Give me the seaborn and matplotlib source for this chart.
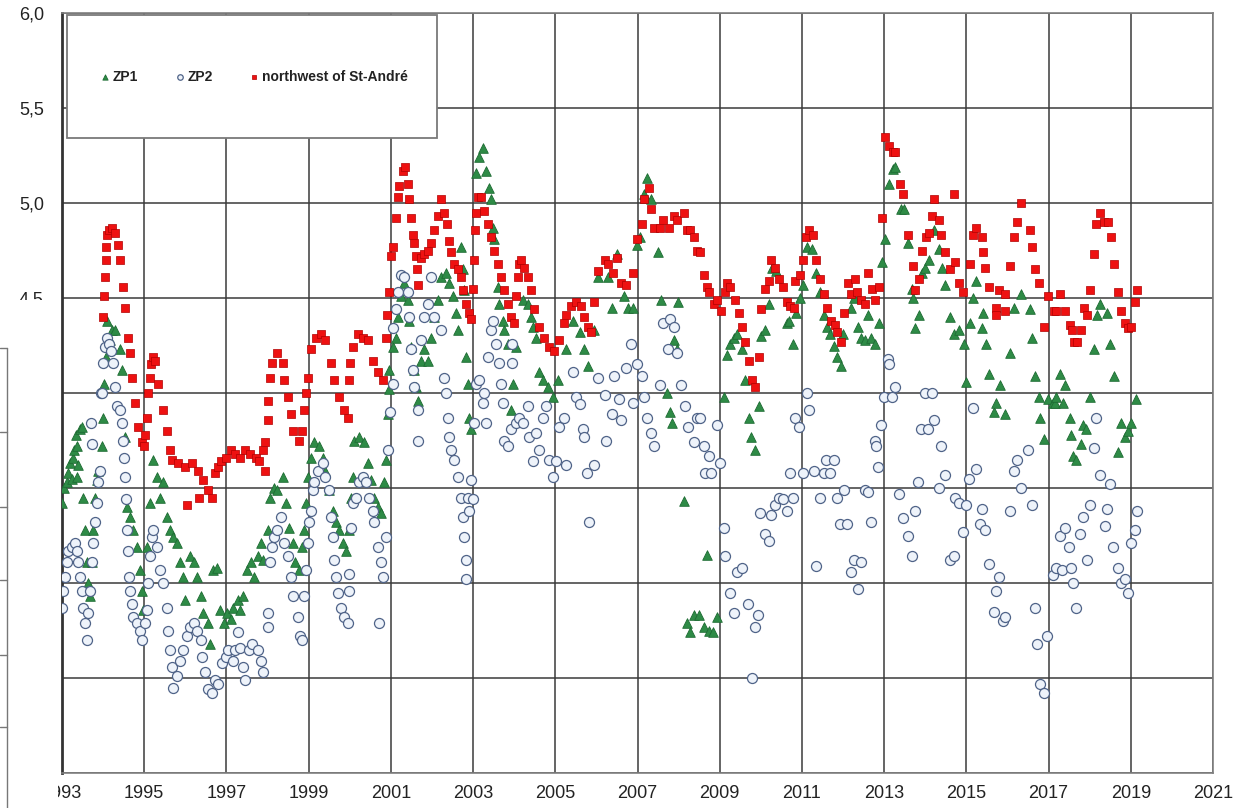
import matplotlib
matplotlib.use("Agg")
import matplotlib.pyplot as plt
from matplotlib.patches import Rectangle
from matplotlib.lines import Line2D
from matplotlib.ticker import FuncFormatter
import seaborn as sns
import pandas as pd
import numpy as np

# ---------------- data ----------------
zp1_year = [1993.00,1993.05,1993.12,1993.15,1993.20,1993.24,1993.27,1993.30,1993.33,1993.37,1993.37,1993.40,1993.44,1993.49,
            1993.51,1993.56,1993.61,1993.63,1993.68,1993.73,1993.76,1993.80,1993.85,1993.88,1993.98,1994.00,1994.02,1994.06,
            1994.10,1994.17,1994.22,1994.29,1994.41,1994.46,1994.54,1994.59,1994.66,1994.73,1994.83,1994.90,1994.95,1994.98,
            1995.07,1995.15,1995.22,1995.32,1995.39,1995.46,1995.56,1995.63,1995.71,1995.80,1995.88,1995.95,1996.00,1996.12,
            1996.20,1996.29,1996.37,1996.44,1996.54,1996.61,1996.68,1996.78,1996.85,1996.93,1997.02,1997.10,1997.17,1997.27,
            1997.34,1997.41,1997.51,1997.59,1997.66,1997.76,1997.83,1997.90,1998.00,1998.07,1998.15,1998.24,1998.37,1998.44,
            1998.51,1998.61,1998.68,1998.76,1998.85,1998.88,1998.93,1998.98,1999.05,1999.12,1999.24,1999.34,1999.41,1999.49,
            1999.59,1999.66,1999.73,1999.83,1999.90,1999.98,2000.02,2000.07,2000.10,2000.22,2000.34,2000.44,2000.51,2000.59,
            2000.68,2000.76,2000.83,2000.88,2000.93,2000.95,2000.96,2001.05,2001.12,2001.17,2001.24,2001.32,2001.41,2001.44,
            2001.49,2001.56,2001.61,2001.66,2001.73,2001.80,2001.90,2001.98,2002.05,2002.15,2002.22,2002.34,2002.41,2002.51,
            2002.59,2002.63,2002.71,2002.76,2002.78,2002.83,2002.88,2002.90,2002.95,2003.07,2003.15,2003.24,2003.32,2003.39,
            2003.44,2003.49,2003.51,2003.61,2003.63,2003.73,2003.76,2003.85,2003.93,2003.98,2004.05,2004.22,2004.34,2004.41,
            2004.46,2004.54,2004.61,2004.71,2004.83,2004.95,2005.07,2005.27,2005.44,2005.59,2005.71,2005.80,2005.93,2006.05,
            2006.29,2006.37,2006.49,2006.66,2006.78,2006.90,2006.98,2007.05,2007.15,2007.24,2007.34,2007.51,2007.56,2007.71,
            2007.80,2007.83,2007.90,2007.95,2007.98,2008.12,2008.20,2008.27,2008.37,2008.49,2008.61,2008.68,2008.73,2008.83,
            2008.93,2009.10,2009.17,2009.24,2009.34,2009.41,2009.54,2009.61,2009.71,2009.76,2009.85,2009.95,2010.00,2010.10,
            2010.20,2010.27,2010.37,2010.63,2010.68,2010.78,2010.85,2010.95,2011.02,2011.12,2011.24,2011.34,2011.44,2011.54,
            2011.61,2011.68,2011.78,2011.85,2011.95,2012.00,2012.20,2012.27,2012.37,2012.44,2012.54,2012.61,2012.68,2012.78,
            2012.88,2012.95,2013.02,2013.12,2013.22,2013.27,2013.41,2013.49,2013.59,2013.68,2013.70,2013.76,2013.85,2013.93,
            2014.00,2014.10,2014.22,2014.34,2014.41,2014.49,2014.61,2014.71,2014.83,2014.95,2015.00,2015.10,2015.17,2015.24,
            2015.39,2015.41,2015.49,2015.56,2015.68,2015.71,2015.83,2015.95,2016.07,2016.17,2016.32,2016.54,2016.59,2016.68,
            2016.76,2016.80,2016.90,2016.98,2017.10,2017.15,2017.17,2017.27,2017.34,2017.41,2017.51,2017.54,2017.59,2017.66,
            2017.78,2017.83,2017.90,2018.00,2018.10,2018.17,2018.24,2018.41,2018.49,2018.59,2018.68,2018.76,2018.85,2018.93,
            2019.00,2019.12]
zp1_val = [3.42,3.50,3.53,3.58,3.63,3.55,3.66,3.70,3.78,3.72,3.56,3.62,3.81,3.82,
           3.45,3.28,3.11,3.00,2.93,3.11,3.28,3.45,3.54,3.59,3.72,3.87,4.05,4.19,
           4.38,4.28,4.33,4.33,4.23,4.12,3.77,3.40,3.35,3.28,3.19,3.07,2.96,2.86,
           3.19,3.42,3.65,3.56,3.45,3.53,3.35,3.28,3.24,3.21,3.11,3.03,2.91,3.14,
           3.11,3.03,2.93,2.84,2.79,2.68,3.07,3.08,2.86,2.79,2.84,2.81,2.87,2.91,
           2.86,2.93,3.07,3.11,3.03,3.14,3.21,3.12,3.28,3.45,3.50,3.49,3.56,3.42,
           3.29,3.21,3.11,3.07,3.19,3.28,3.42,3.56,3.66,3.74,3.72,3.66,3.59,3.49,
           3.38,3.32,3.28,3.21,3.17,3.28,3.45,3.56,3.75,3.77,3.74,3.63,3.54,3.45,
           3.40,3.37,3.53,3.65,3.89,4.02,4.12,4.24,4.29,4.40,4.51,4.58,4.49,4.38,
           4.24,4.12,4.03,3.96,4.17,4.23,4.17,4.29,4.40,4.49,4.61,4.63,4.58,4.51,
           4.42,4.33,4.77,4.65,4.54,4.19,4.05,3.87,3.81,5.16,5.24,5.29,5.17,5.08,
           5.02,4.87,4.81,4.56,4.47,4.38,4.33,4.26,3.91,4.05,4.24,4.49,4.47,4.40,
           4.35,4.29,4.11,4.07,4.03,3.98,4.07,4.23,4.38,4.32,4.23,4.14,4.33,4.61,
           4.61,4.45,4.73,4.51,4.45,4.45,4.78,4.82,5.05,5.13,5.02,4.74,4.49,4.00,
           3.90,3.84,4.28,4.23,4.48,3.43,2.79,2.74,2.83,2.83,2.77,3.15,2.75,2.74,
           2.82,3.98,4.20,4.26,4.29,4.31,4.23,4.07,3.87,3.77,3.70,3.93,4.30,4.33,
           4.47,4.66,4.64,4.37,4.38,4.26,4.42,4.50,4.57,4.77,4.76,4.63,4.53,4.41,
           4.35,4.31,4.25,4.19,4.14,4.31,4.45,4.50,4.35,4.29,4.28,4.41,4.29,4.26,
           4.37,4.69,4.81,5.10,5.18,5.19,4.97,4.97,4.79,4.55,4.50,4.34,4.41,4.63,
           4.66,4.70,4.86,4.76,4.66,4.57,4.40,4.31,4.33,4.26,4.06,4.37,4.50,4.59,
           4.34,4.42,4.26,4.10,3.90,3.95,4.04,3.89,4.21,4.45,4.52,4.44,4.29,4.09,
           3.98,3.87,3.76,3.97,3.95,3.95,3.98,4.10,3.95,4.04,3.87,3.78,3.67,3.65,
           3.73,3.83,3.81,3.98,4.23,4.41,4.47,4.42,4.26,4.09,3.69,3.84,3.77,3.80,
           3.84,3.97]

zp2_year = [1993.00,1993.02,1993.07,1993.12,1993.15,1993.24,1993.32,1993.37,1993.39,1993.44,1993.49,1993.51,1993.56,1993.61,
            1993.63,1993.68,1993.70,1993.72,1993.73,1993.76,1993.80,1993.85,1993.88,1993.93,1993.94,1993.98,1994.00,1994.05,
            1994.10,1994.15,1994.20,1994.24,1994.29,1994.34,1994.41,1994.46,1994.49,1994.50,1994.54,1994.55,1994.59,1994.61,
            1994.62,1994.66,1994.71,1994.73,1994.83,1994.90,1994.95,1995.02,1995.07,1995.10,1995.15,1995.20,1995.22,1995.32,
            1995.39,1995.46,1995.56,1995.59,1995.63,1995.68,1995.71,1995.80,1995.88,1995.95,1996.05,1996.12,1996.20,1996.29,
            1996.37,1996.41,1996.49,1996.56,1996.66,1996.73,1996.80,1996.90,1996.98,1997.05,1997.15,1997.22,1997.27,1997.34,
            1997.41,1997.46,1997.54,1997.63,1997.76,1997.83,1997.90,1998.00,1998.02,1998.07,1998.12,1998.15,1998.24,1998.32,
            1998.39,1998.49,1998.56,1998.63,1998.73,1998.80,1998.85,1998.88,1998.93,1998.98,1999.00,1999.05,1999.10,1999.12,
            1999.22,1999.34,1999.41,1999.49,1999.54,1999.59,1999.61,1999.66,1999.71,1999.78,1999.85,1999.95,1999.98,1999.99,
            2000.02,2000.07,2000.15,2000.22,2000.32,2000.39,2000.46,2000.56,2000.59,2000.68,2000.71,2000.76,2000.80,2000.88,
            2000.93,2000.98,2001.05,2001.06,2001.12,2001.17,2001.24,2001.32,2001.41,2001.44,2001.49,2001.54,2001.56,2001.66,
            2001.67,2001.73,2001.80,2001.90,2001.98,2002.05,2002.22,2002.29,2002.34,2002.39,2002.41,2002.46,2002.54,2002.63,
            2002.71,2002.76,2002.78,2002.83,2002.84,2002.88,2002.90,2002.95,2003.00,2003.02,2003.07,2003.15,2003.24,2003.27,
            2003.32,2003.37,2003.44,2003.49,2003.56,2003.63,2003.68,2003.73,2003.76,2003.85,2003.93,2003.94,2003.95,2004.05,
            2004.12,2004.22,2004.34,2004.37,2004.46,2004.54,2004.61,2004.71,2004.78,2004.85,2004.95,2005.02,2005.10,2005.22,
            2005.27,2005.44,2005.51,2005.59,2005.68,2005.71,2005.76,2005.83,2005.95,2006.05,2006.20,2006.24,2006.37,2006.44,
            2006.54,2006.61,2006.73,2006.85,2006.90,2006.98,2007.10,2007.17,2007.24,2007.32,2007.41,2007.54,2007.63,2007.73,
            2007.78,2007.88,2007.95,2008.07,2008.15,2008.24,2008.37,2008.44,2008.51,2008.61,2008.63,2008.73,2008.80,2008.93,
            2009.00,2009.10,2009.12,2009.24,2009.34,2009.41,2009.54,2009.68,2009.78,2009.85,2009.93,2009.98,2010.10,2010.20,
            2010.24,2010.34,2010.44,2010.54,2010.63,2010.71,2010.78,2010.83,2010.93,2011.02,2011.12,2011.17,2011.29,2011.34,
            2011.44,2011.54,2011.59,2011.68,2011.78,2011.85,2011.93,2012.02,2012.10,2012.20,2012.27,2012.37,2012.44,2012.54,
            2012.61,2012.68,2012.78,2012.80,2012.85,2012.93,2013.00,2013.10,2013.12,2013.20,2013.27,2013.37,2013.46,2013.59,
            2013.68,2013.76,2013.83,2013.90,2014.00,2014.07,2014.17,2014.22,2014.34,2014.39,2014.49,2014.59,2014.71,2014.73,
            2014.83,2014.93,2014.98,2015.07,2015.15,2015.24,2015.34,2015.39,2015.46,2015.56,2015.68,2015.71,2015.80,2015.90,
            2015.95,2016.05,2016.15,2016.22,2016.32,2016.51,2016.59,2016.68,2016.73,2016.80,2016.90,2016.95,2017.10,2017.17,
            2017.27,2017.32,2017.41,2017.49,2017.54,2017.59,2017.66,2017.76,2017.83,2017.93,2018.00,2018.10,2018.15,2018.24,
            2018.37,2018.41,2018.49,2018.56,2018.68,2018.76,2018.85,2018.93,2019.00,2019.10,2019.15]
zp2_val = [2.87,2.96,3.03,3.11,3.17,3.19,3.21,3.17,3.11,3.03,2.96,2.87,2.79,2.70,
           2.84,2.96,3.84,3.73,3.11,3.21,3.32,3.42,3.53,3.59,4.00,4.00,4.16,4.24,
           4.29,4.26,4.22,4.16,4.03,3.93,3.91,3.84,3.75,3.66,3.56,3.44,3.28,3.17,
           3.03,2.96,2.89,2.82,2.79,2.75,2.70,2.79,2.86,3.00,3.14,3.24,3.28,3.19,
           3.07,3.00,2.87,2.75,2.65,2.56,2.45,2.51,2.59,2.65,2.72,2.77,2.79,2.75,
           2.70,2.61,2.53,2.44,2.42,2.49,2.47,2.58,2.61,2.65,2.59,2.65,2.74,2.66,
           2.56,2.49,2.65,2.68,2.65,2.59,2.53,2.77,2.84,3.11,3.19,3.24,3.28,3.35,
           3.21,3.14,3.03,2.93,2.82,2.72,2.70,2.93,3.07,3.21,3.32,3.38,3.49,3.53,
           3.59,3.63,3.56,3.49,3.35,3.24,3.12,3.03,2.95,2.87,2.82,2.79,2.96,3.05,
           3.29,3.42,3.45,3.53,3.56,3.53,3.45,3.38,3.32,3.19,2.79,3.11,3.03,3.24,
           3.70,3.90,4.05,4.34,4.44,4.53,4.62,4.61,4.53,4.40,4.23,4.12,4.03,3.91,
           3.75,4.28,4.40,4.47,4.61,4.40,4.33,4.08,4.00,3.87,3.77,3.70,3.65,3.56,
           3.45,3.35,3.24,3.12,3.02,3.45,3.38,3.54,3.44,3.84,4.05,4.07,3.95,4.00,
           3.84,4.19,4.33,4.38,4.26,4.16,4.05,3.95,3.75,3.72,3.81,4.26,4.16,3.84,
           3.87,3.84,3.93,3.77,3.64,3.79,3.70,3.87,3.93,3.65,3.56,3.64,3.82,3.87,
           3.62,4.11,3.98,3.94,3.81,3.77,3.58,3.32,3.62,4.08,3.99,3.75,3.89,4.09,
           3.97,3.86,4.13,4.26,3.95,4.15,4.09,3.98,3.87,3.79,3.72,4.04,4.37,4.23,
           4.39,4.35,4.21,4.04,3.93,3.82,3.74,3.87,3.87,3.72,3.58,3.67,3.58,3.83,
           3.63,3.29,3.14,2.95,2.84,3.06,3.08,2.89,2.50,2.77,2.83,3.37,3.26,3.22,
           3.36,3.41,3.45,3.44,3.38,3.58,3.45,3.87,3.82,3.58,4.00,3.91,3.59,3.09,
           3.45,3.58,3.65,3.58,3.65,3.45,3.31,3.49,3.31,3.06,3.12,2.97,3.11,3.49,
           3.48,3.32,3.75,3.72,3.61,3.83,3.98,4.18,4.15,3.98,4.03,3.47,3.34,3.25,
           3.14,3.38,3.53,3.81,4.00,3.81,4.00,3.86,3.50,3.72,3.57,3.12,3.14,3.45,
           3.42,3.27,3.41,3.55,3.92,3.60,3.31,3.39,3.28,3.10,2.85,2.96,3.03,2.80,
           2.82,3.38,3.59,3.65,3.50,3.70,3.41,2.87,2.68,2.47,2.42,2.72,3.04,3.08,
           3.25,3.07,3.29,3.19,3.08,3.00,2.87,3.26,3.35,3.12,3.41,3.71,3.87,3.57,
           3.30,3.39,3.52,3.19,3.08,3.00,3.02,2.95,3.21,3.28,3.38]

nw_year = [1994.00,1994.02,1994.05,1994.07,1994.08,1994.10,1994.15,1994.22,1994.29,1994.37,1994.41,1994.49,1994.54,1994.61,
           1994.66,1994.71,1994.78,1994.85,1994.95,1995.00,1995.03,1995.07,1995.10,1995.13,1995.17,1995.21,1995.26,1995.34,
           1995.46,1995.56,1995.63,1995.68,1995.83,1996.00,1996.05,1996.17,1996.32,1996.33,1996.44,1996.56,1996.66,1996.73,
           1996.80,1996.88,1996.98,1997.10,1997.22,1997.34,1997.46,1997.58,1997.71,1997.80,1997.88,1997.93,1997.95,1998.00,
           1998.02,1998.07,1998.12,1998.24,1998.37,1998.39,1998.49,1998.56,1998.63,1998.76,1998.85,1998.88,1998.93,1998.98,
           1999.05,1999.17,1999.29,1999.41,1999.54,1999.61,1999.73,1999.85,1999.95,1999.98,2000.00,2000.07,2000.20,2000.32,
           2000.44,2000.56,2000.68,2000.80,2000.88,2000.90,2000.95,2001.00,2001.05,2001.12,2001.17,2001.20,2001.29,2001.34,
           2001.41,2001.44,2001.49,2001.54,2001.56,2001.61,2001.63,2001.66,2001.73,2001.80,2001.90,2001.98,2002.05,2002.15,
           2002.22,2002.29,2002.37,2002.41,2002.46,2002.54,2002.63,2002.71,2002.76,2002.83,2002.90,2002.95,2002.99,2003.02,
           2003.05,2003.07,2003.12,2003.20,2003.27,2003.37,2003.44,2003.51,2003.61,2003.68,2003.76,2003.85,2003.93,2004.00,
           2004.05,2004.10,2004.12,2004.17,2004.24,2004.34,2004.41,2004.49,2004.61,2004.73,2004.85,2004.98,2005.10,2005.20,
           2005.27,2005.39,2005.51,2005.63,2005.71,2005.80,2005.88,2005.95,2006.05,2006.20,2006.29,2006.41,2006.49,2006.61,
           2006.73,2006.90,2006.98,2007.10,2007.17,2007.27,2007.34,2007.41,2007.54,2007.63,2007.76,2007.90,2007.95,2008.12,
           2008.20,2008.27,2008.37,2008.44,2008.51,2008.61,2008.68,2008.73,2008.85,2008.93,2009.02,2009.12,2009.17,2009.24,
           2009.37,2009.46,2009.54,2009.61,2009.71,2009.78,2009.85,2009.95,2010.00,2010.10,2010.20,2010.24,2010.34,2010.44,
           2010.54,2010.63,2010.71,2010.80,2010.83,2010.95,2011.02,2011.10,2011.17,2011.27,2011.34,2011.44,2011.54,2011.61,
           2011.71,2011.80,2011.85,2011.95,2012.02,2012.12,2012.20,2012.29,2012.34,2012.44,2012.54,2012.61,2012.71,2012.78,
           2012.88,2012.95,2013.02,2013.12,2013.22,2013.27,2013.39,2013.46,2013.59,2013.71,2013.76,2013.85,2013.93,2014.02,
           2014.10,2014.17,2014.22,2014.34,2014.39,2014.49,2014.61,2014.71,2014.73,2014.83,2014.93,2015.10,2015.15,2015.24,
           2015.37,2015.41,2015.46,2015.56,2015.71,2015.73,2015.80,2015.93,2015.95,2016.07,2016.15,2016.22,2016.32,2016.54,
           2016.59,2016.68,2016.76,2016.90,2016.98,2017.12,2017.17,2017.29,2017.41,2017.51,2017.56,2017.61,2017.68,2017.78,
           2017.85,2017.93,2018.00,2018.10,2018.15,2018.24,2018.34,2018.44,2018.51,2018.59,2018.68,2018.76,2018.85,2018.93,
           2019.00,2019.10,2019.15]
nw_val = [4.40,4.51,4.61,4.70,4.77,4.83,4.86,4.87,4.84,4.78,4.70,4.56,4.45,4.29,
          4.21,4.08,3.95,3.82,3.74,3.72,3.78,3.87,4.00,4.08,4.15,4.19,4.17,4.05,
          3.91,3.80,3.70,3.65,3.63,3.61,3.41,3.63,3.59,3.45,3.54,3.49,3.45,3.58,
          3.61,3.64,3.66,3.70,3.68,3.66,3.70,3.68,3.66,3.64,3.70,3.74,3.59,3.86,
          3.96,4.08,4.16,4.21,4.16,4.07,3.98,3.89,3.80,3.75,3.80,3.91,4.00,4.08,
          4.23,4.29,4.31,4.28,4.16,4.07,3.98,3.91,3.87,4.07,4.16,4.24,4.31,4.29,
          4.28,4.17,4.11,4.07,4.29,4.41,4.53,4.72,4.77,4.92,5.03,5.09,5.17,5.19,
          5.10,5.02,4.92,4.83,4.79,4.72,4.65,4.57,4.71,4.73,4.75,4.79,4.86,4.93,
          5.02,4.95,4.89,4.80,4.74,4.68,4.65,4.61,4.54,4.47,4.42,4.39,4.55,4.70,
          4.86,4.95,5.03,5.03,4.96,4.89,4.82,4.75,4.68,4.61,4.54,4.47,4.40,4.37,
          4.51,4.61,4.68,4.70,4.66,4.61,4.54,4.44,4.35,4.29,4.24,4.22,4.28,4.37,
          4.41,4.46,4.48,4.46,4.40,4.35,4.32,4.48,4.64,4.70,4.68,4.63,4.71,4.58,
          4.57,4.63,4.81,4.89,5.02,5.08,4.97,4.87,4.87,4.91,4.87,4.93,4.91,4.95,
          4.86,4.86,4.82,4.75,4.74,4.62,4.56,4.53,4.47,4.49,4.43,4.53,4.58,4.56,
          4.49,4.42,4.35,4.27,4.17,4.07,4.03,4.19,4.44,4.55,4.59,4.70,4.66,4.60,
          4.56,4.48,4.46,4.45,4.59,4.62,4.70,4.82,4.86,4.83,4.70,4.60,4.52,4.45,
          4.38,4.36,4.32,4.27,4.42,4.58,4.52,4.60,4.53,4.49,4.47,4.63,4.55,4.49,
          4.56,4.92,5.35,5.30,5.27,5.27,5.10,5.05,4.83,4.67,4.54,4.60,4.75,4.82,
          4.84,4.93,5.02,4.91,4.83,4.74,4.65,5.05,4.69,4.58,4.53,4.68,4.83,4.87,
          4.82,4.74,4.66,4.56,4.45,4.41,4.54,4.43,4.52,4.67,4.82,4.90,5.00,4.86,
          4.77,4.65,4.58,4.35,4.51,4.43,4.43,4.52,4.43,4.36,4.33,4.27,4.27,4.33,
          4.45,4.41,4.54,4.73,4.89,4.95,4.90,4.90,4.82,4.68,4.53,4.43,4.37,4.34,
          4.35,4.48,4.54]

series_labels = ["ZP1", "ZP2", "northwest of St-André"]
x_ticks = list(range(1993, 2022, 2))
y_ticks = [2.0, 2.5, 3.0, 3.5, 4.0, 4.5, 5.0, 5.5, 6.0]

# ---------------- figure ----------------
sns.set_style("white")
plt.rcParams["font.family"] = ["Liberation Sans", "DejaVu Sans"]

W, H = 1256, 808
fig = plt.figure(figsize=(W / 100, H / 100), dpi=100)
fig.patch.set_facecolor("white")
ax = fig.add_axes([62 / W, 35 / H, 1151 / W, 760 / H])

df1 = pd.DataFrame({"year": zp1_year, "value": zp1_val})
df2 = pd.DataFrame({"year": zp2_year, "value": zp2_val})
df3 = pd.DataFrame({"year": nw_year, "value": nw_val})

sns.scatterplot(data=df1, x="year", y="value", ax=ax, marker="^", s=48,
                color="#2e8b46", edgecolor="#1d6b33", linewidth=0.6, label=series_labels[0], zorder=3)
sns.scatterplot(data=df2, x="year", y="value", ax=ax, marker="o", s=52,
                facecolor="#eef3fa", edgecolor="#4f6388", linewidth=0.9, label=series_labels[1], zorder=3)
sns.scatterplot(data=df3, x="year", y="value", ax=ax, marker="s", s=30,
                color="#ee1111", edgecolor="#b00000", linewidth=0.5, label=series_labels[2], zorder=4)

ax.set_xlim(1993, 2021)
ax.set_ylim(2.0, 6.0)
ax.set_xticks(x_ticks)
ax.set_yticks(y_ticks)
ax.yaxis.set_major_formatter(FuncFormatter(lambda v, p: f"{v:.1f}".replace(".", ",")))
ax.set_xlabel("")
ax.set_ylabel("")
ax.grid(True, color="#3a3a3a", linewidth=1.1)
ax.set_axisbelow(True)
ax.tick_params(axis="both", which="major", direction="out", length=5, width=1,
               color="#555555", labelsize=13, labelcolor="#222222")
ax.tick_params(axis="y", pad=8)
ax.tick_params(axis="x", pad=4)
for side in ["top", "right", "bottom"]:
    ax.spines[side].set_color("#808080")
    ax.spines[side].set_linewidth(1.2)
ax.spines["left"].set_color("#333333")
ax.spines["left"].set_linewidth(2.0)

# legend box
box = Rectangle((0.0043, 0.8355), 0.3215, 0.1615, transform=ax.transAxes,
                facecolor="white", edgecolor="#7a7a7a", linewidth=1.3, zorder=5)
ax.add_patch(box)
leg = ax.legend(loc="center", bbox_to_anchor=(0.166, 0.916), ncol=3, frameon=False,
                prop={"weight": "bold", "size": 10}, handletextpad=0.05, handlelength=1.0,
                columnspacing=2.5, markerscale=0.55, borderpad=0.2)
for t in leg.get_texts():
    t.set_color("#222222")
leg.set_zorder(6)

# white cover over the lower-left corner (labels hidden in the reference)
fig.add_artist(Rectangle((0, 0), 58 / W, (H - 300) / H, transform=fig.transFigure,
                         facecolor="white", edgecolor="none", zorder=20))
# sliver of neighbouring frame at the far left
fig.add_artist(Line2D([7 / W, 7 / W], [0, (H - 348) / H], transform=fig.transFigure,
                      color="#777777", linewidth=1.0, zorder=21))
for yy in [348, 432, 507, 580, 655, 727]:
    fig.add_artist(Line2D([0, 7 / W], [(H - yy) / H, (H - yy) / H], transform=fig.transFigure,
                          color="#777777", linewidth=1.0, zorder=21))

fig.savefig("out.png", dpi=100, facecolor="white")
